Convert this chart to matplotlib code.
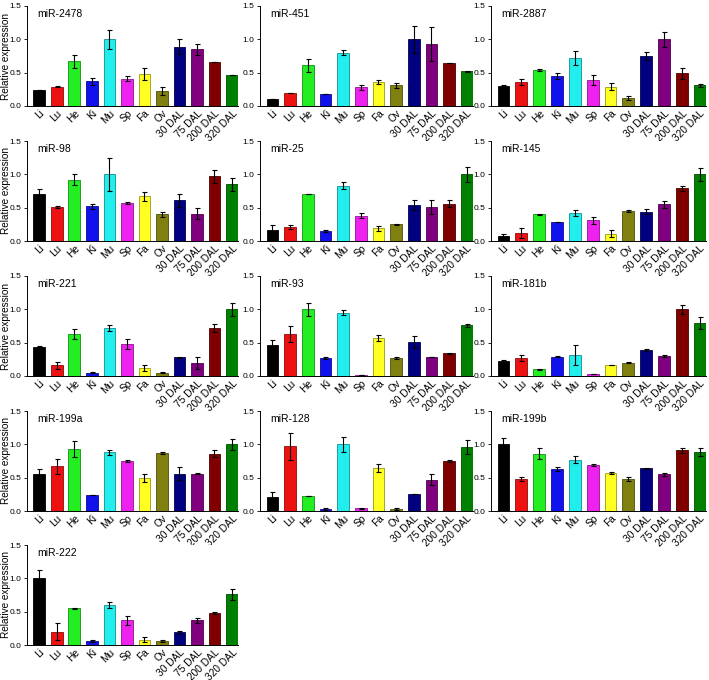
import matplotlib
matplotlib.use("Agg")
import matplotlib.pyplot as plt
import numpy as np
from matplotlib.colors import to_rgb

plt.rcParams['font.family'] = ['Liberation Sans', 'DejaVu Sans']

tissues = ["Li", "Lu", "He", "Ki", "Mu", "Sp", "Fa", "Ov", "30 DAL", "75 DAL", "200 DAL", "320 DAL"]
colors = ["#000000", "#ee1111", "#22ee22", "#1111ee", "#22eeee", "#ee22ee",
          "#ffff22", "#808010", "#000080", "#800080", "#800000", "#008000"]

mirnas = ["miR-2478", "miR-451", "miR-2887", "miR-98", "miR-25", "miR-145",
          "miR-221", "miR-93", "miR-181b", "miR-199a", "miR-128", "miR-199b", "miR-222"]

mir2478 = [0.24, 0.29, 0.67, 0.37, 1.00, 0.41, 0.48, 0.22, 0.89, 0.85, 0.66, 0.46]
mir2478_err = [0.00, 0.01, 0.10, 0.05, 0.14, 0.04, 0.09, 0.06, 0.11, 0.08, 0.00, 0.00]
mir451 = [0.10, 0.19, 0.61, 0.18, 0.80, 0.28, 0.36, 0.31, 1.00, 0.93, 0.64, 0.52]
mir451_err = [0.00, 0.00, 0.10, 0.00, 0.04, 0.04, 0.03, 0.04, 0.20, 0.26, 0.00, 0.01]
mir2887 = [0.30, 0.36, 0.54, 0.45, 0.72, 0.39, 0.29, 0.12, 0.75, 1.00, 0.49, 0.31]
mir2887_err = [0.02, 0.05, 0.02, 0.04, 0.10, 0.07, 0.05, 0.03, 0.06, 0.11, 0.08, 0.02]
mir98 = [0.71, 0.51, 0.92, 0.52, 1.00, 0.57, 0.67, 0.40, 0.61, 0.41, 0.97, 0.85]
mir98_err = [0.07, 0.02, 0.08, 0.04, 0.25, 0.02, 0.07, 0.04, 0.10, 0.08, 0.10, 0.10]
mir25 = [0.17, 0.21, 0.70, 0.15, 0.83, 0.38, 0.19, 0.25, 0.54, 0.51, 0.56, 1.00]
mir25_err = [0.07, 0.03, 0.00, 0.01, 0.05, 0.04, 0.04, 0.01, 0.07, 0.10, 0.05, 0.11]
mir145 = [0.07, 0.12, 0.40, 0.28, 0.42, 0.31, 0.11, 0.45, 0.44, 0.55, 0.79, 1.00]
mir145_err = [0.03, 0.08, 0.01, 0.00, 0.05, 0.05, 0.05, 0.01, 0.04, 0.05, 0.04, 0.10]
mir221 = [0.44, 0.16, 0.63, 0.05, 0.72, 0.48, 0.12, 0.05, 0.28, 0.20, 0.72, 1.00]
mir221_err = [0.01, 0.05, 0.07, 0.01, 0.04, 0.07, 0.04, 0.01, 0.01, 0.09, 0.06, 0.10]
mir93 = [0.47, 0.63, 1.00, 0.27, 0.95, 0.02, 0.57, 0.27, 0.51, 0.28, 0.34, 0.76]
mir93_err = [0.07, 0.12, 0.10, 0.01, 0.04, 0.00, 0.05, 0.01, 0.09, 0.00, 0.01, 0.02]
mir181b = [0.22, 0.27, 0.10, 0.29, 0.32, 0.03, 0.16, 0.20, 0.39, 0.30, 1.00, 0.80]
mir181b_err = [0.02, 0.04, 0.01, 0.01, 0.15, 0.00, 0.00, 0.01, 0.01, 0.02, 0.07, 0.09]
mir199a = [0.56, 0.67, 0.93, 0.24, 0.88, 0.75, 0.50, 0.87, 0.56, 0.56, 0.86, 1.00]
mir199a_err = [0.07, 0.11, 0.12, 0.00, 0.04, 0.01, 0.06, 0.01, 0.10, 0.01, 0.05, 0.08]
mir128 = [0.21, 0.97, 0.22, 0.03, 1.00, 0.04, 0.64, 0.03, 0.26, 0.47, 0.75, 0.96]
mir128_err = [0.07, 0.20, 0.00, 0.01, 0.11, 0.01, 0.06, 0.01, 0.00, 0.08, 0.01, 0.10]
mir199b = [1.00, 0.48, 0.86, 0.63, 0.77, 0.69, 0.57, 0.48, 0.64, 0.55, 0.91, 0.89]
mir199b_err = [0.10, 0.03, 0.08, 0.03, 0.05, 0.02, 0.01, 0.03, 0.01, 0.02, 0.04, 0.06]
mir222 = [1.00, 0.20, 0.55, 0.06, 0.60, 0.37, 0.08, 0.06, 0.19, 0.37, 0.48, 0.76]
mir222_err = [0.12, 0.13, 0.01, 0.02, 0.04, 0.07, 0.04, 0.02, 0.02, 0.04, 0.02, 0.08]

values = [mir2478, mir451, mir2887, mir98, mir25, mir145, mir221, mir93,
          mir181b, mir199a, mir128, mir199b, mir222]
errors = [mir2478_err, mir451_err, mir2887_err, mir98_err, mir25_err, mir145_err,
          mir221_err, mir93_err, mir181b_err, mir199a_err, mir128_err, mir199b_err, mir222_err]

W, H = 709, 680
fig = plt.figure(figsize=(W / 100, H / 100), dpi=100)

col_left = [27, 260, 491]
col_w = [211, 213, 215]
row_top = [6, 141, 276, 411, 545]
ax_h = 100

edgecols = [tuple(c * 0.6 for c in to_rgb(col)) for col in colors]
x = np.arange(len(tissues))

for i, name in enumerate(mirnas):
    r, c = divmod(i, 3)
    left = col_left[c] / W
    bottom = 1 - (row_top[r] + ax_h) / H
    ax = fig.add_axes([left, bottom, col_w[c] / W, ax_h / H])
    ax.bar(x, values[i], width=0.66, color=colors, edgecolor=edgecols, linewidth=0.6)
    ax.errorbar(x, values[i], yerr=errors[i], fmt='none', ecolor='black',
                elinewidth=0.8, capsize=1.8, capthick=0.8)
    ax.set_xlim(-0.7, 11.35)
    ax.set_ylim(0, 1.5)
    ax.set_yticks([0, 0.5, 1.0, 1.5])
    ax.set_yticklabels(["0.0", "0.5", "1.0", "1.5"], fontsize=6)
    ax.set_xticks(x)
    ax.set_xticklabels(tissues, rotation=45, ha='right', rotation_mode='anchor', fontsize=7.3)
    ax.tick_params(axis='y', length=2.5, width=0.6, pad=1.5)
    ax.tick_params(axis='x', length=0, pad=1.5)
    for s in ['top', 'right']:
        ax.spines[s].set_visible(False)
    for s in ['left', 'bottom']:
        ax.spines[s].set_linewidth(0.7)
    ax.text(0.05, 0.97, name, transform=ax.transAxes, ha='left', va='top', fontsize=7.5)
    if c == 0:
        ax.set_ylabel("Relative expression", fontsize=7.2)
        ax.yaxis.set_label_coords((10.5 - col_left[0]) / col_w[0], 0.5)

fig.savefig("out.png", dpi=100)
